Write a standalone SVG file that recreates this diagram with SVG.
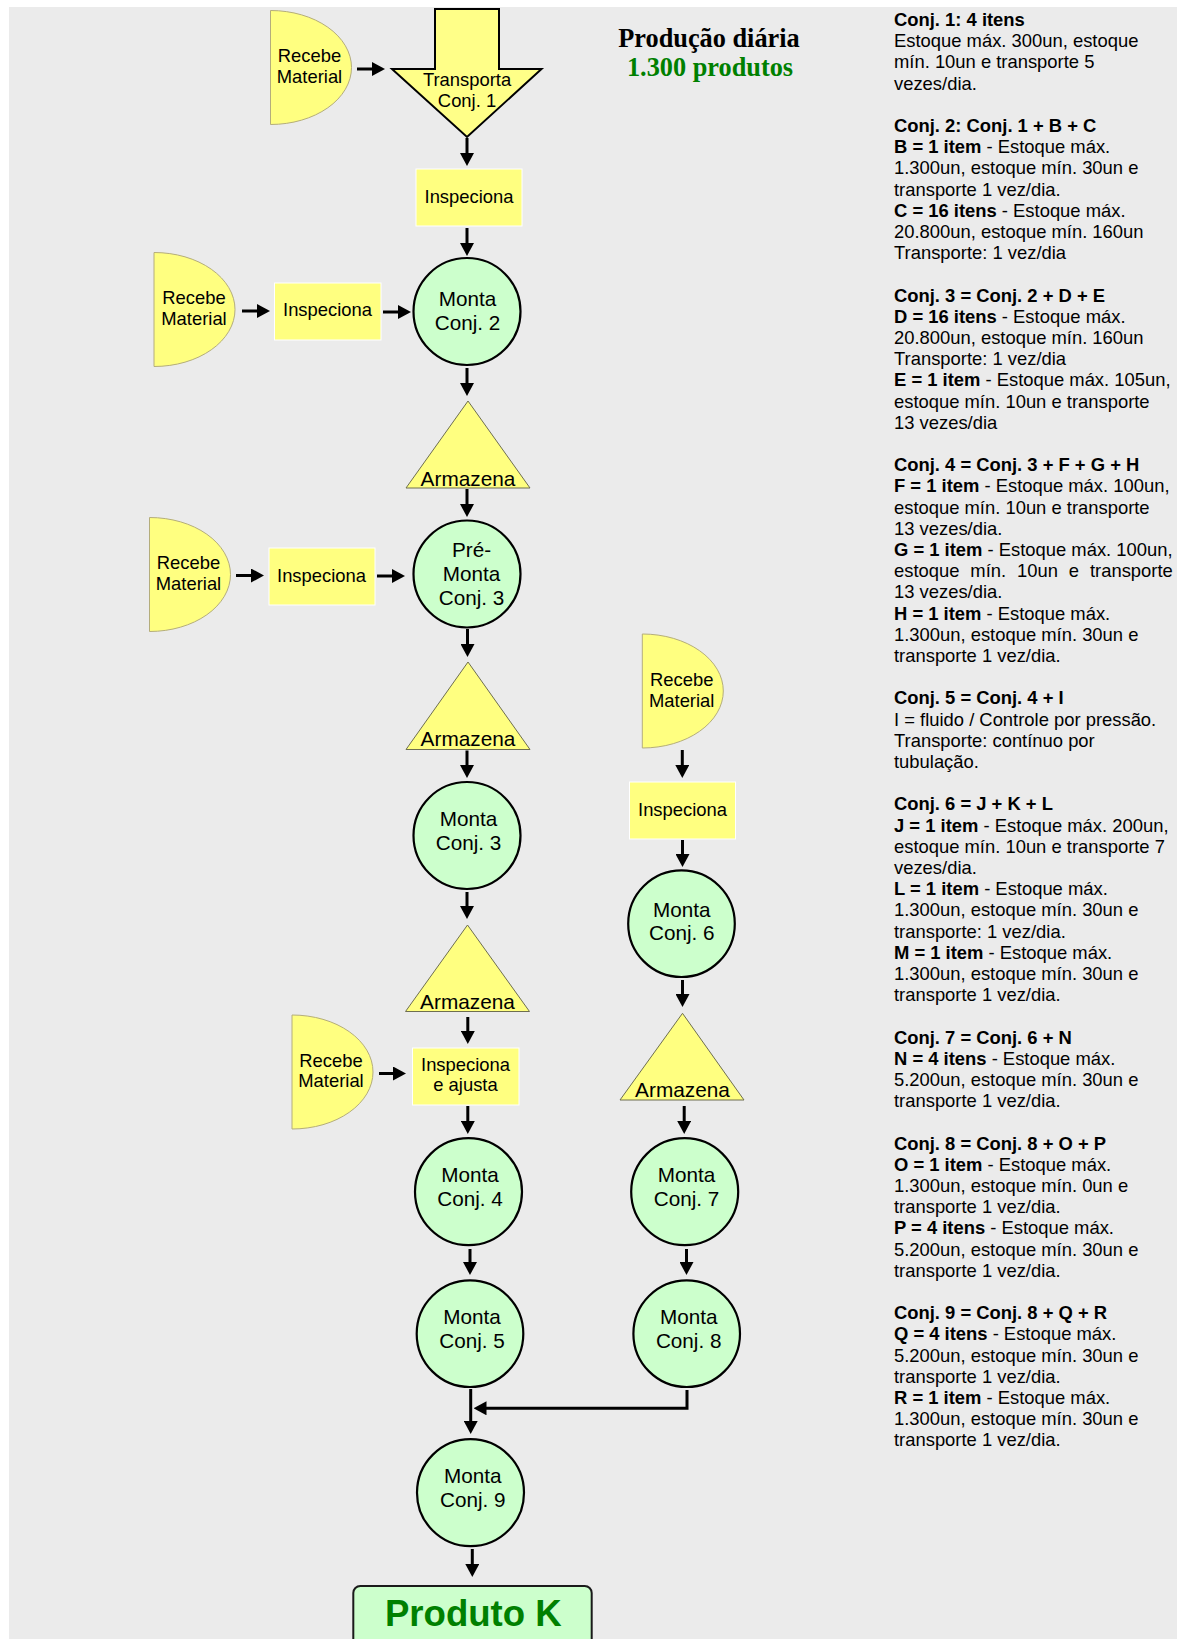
<svg xmlns="http://www.w3.org/2000/svg" width="1177" height="1639" viewBox="0 0 1177 1639">
  <style>
    .bg { fill: #ebebeb; }
    .recv { fill: #ffff80; stroke: #b4ad7c; stroke-width: 1; }
    .insp { fill: #ffff80; stroke: #ffffff; stroke-width: 1; }
    .store { fill: #ffff80; stroke: #6e6e50; stroke-width: 1; }
    .move { fill: #ffff88; stroke: #000000; stroke-width: 2; stroke-linejoin: miter; }
    .op { fill: #ccffcc; stroke: #000000; stroke-width: 2.2; }
    .prod { fill: #ccffcc; stroke: #1a1a1a; stroke-width: 2; }
    .t { font-family: "Liberation Sans", Arial, sans-serif; font-size: 18.4px; fill: #000; text-anchor: middle; }
    .tc { font-family: "Liberation Sans", Arial, sans-serif; font-size: 20.7px; fill: #000; text-anchor: middle; }
    .ta { font-family: "Liberation Sans", Arial, sans-serif; font-size: 20.8px; fill: #000; text-anchor: middle; }
    .tk { font-family: "Liberation Sans", Arial, sans-serif; font-size: 36.6px; font-weight: bold; fill: #008000; text-anchor: middle; }
    .title { font-family: "Liberation Serif", "Times New Roman", serif; font-size: 26.3px; font-weight: bold; text-anchor: middle; }
    .note { font-family: "Liberation Sans", Arial, sans-serif; font-size: 18.4px; fill: #000; }
    .b { font-weight: bold; }
    .flow { fill: none; stroke: #000; stroke-width: 3; marker-end: url(#ah); }
  </style>
  <defs>
    <marker id="ah" markerUnits="userSpaceOnUse" viewBox="0 0 13 14" markerWidth="13" markerHeight="14" refX="5" refY="7" orient="auto">
      <path d="M0,0 L13,7 L0,14 Z" fill="#000"/>
    </marker>
  </defs>

  <rect class="bg" x="9" y="7" width="1168" height="1632"/>

  <!-- heading -->
  <g id="heading">
    <text class="title" x="709" y="47" fill="#000">Produção diária</text>
    <text class="title" x="710" y="76" fill="#008000">1.300 produtos</text>
  </g>

  <!-- main line -->
  <g id="recebe1">
    <path class="recv" d="M270.5,10.5 A81,57 0 0 1 270.5,124.5 Z"/>
    <text class="t" x="309.5" y="61.5">Recebe</text>
    <text class="t" x="309.5" y="82.5">Material</text>
  </g>
  <g id="transporta1">
    <polygon class="move" points="435,9 499,9 499,69 541.5,69 467,137 392,69 435,69"/>
    <text class="t" x="467" y="86">Transporta</text>
    <text class="t" x="467" y="107">Conj. 1</text>
  </g>
  <g id="inspeciona1">
    <rect class="insp" x="416" y="169" width="106" height="57"/>
    <text class="t" x="469" y="203">Inspeciona</text>
  </g>
  <g id="monta2">
    <circle class="op" cx="467" cy="311.5" r="53.5"/>
    <text class="tc" x="467.5" y="305.5">Monta</text>
    <text class="tc" x="467.5" y="329.5">Conj. 2</text>
  </g>
  <g id="recebe2">
    <path class="recv" d="M154,252.5 A81,57 0 0 1 154,366.5 Z"/>
    <text class="t" x="194" y="303.5">Recebe</text>
    <text class="t" x="194" y="324.5">Material</text>
  </g>
  <g id="inspeciona2">
    <rect class="insp" x="274.5" y="283" width="106.5" height="57"/>
    <text class="t" x="327.5" y="316">Inspeciona</text>
  </g>
  <g id="armazena1">
    <polygon class="store" points="468,401 406,488 530,488"/>
    <text class="ta" x="468" y="485.5">Armazena</text>
  </g>
  <g id="premonta3">
    <circle class="op" cx="467" cy="574" r="53.5"/>
    <text class="tc" x="471.5" y="557">Pré-</text>
    <text class="tc" x="471.5" y="581">Monta</text>
    <text class="tc" x="471.5" y="604.5">Conj. 3</text>
  </g>
  <g id="recebe3">
    <path class="recv" d="M149.5,517.5 A81,57 0 0 1 149.5,631.5 Z"/>
    <text class="t" x="188.5" y="569">Recebe</text>
    <text class="t" x="188.5" y="590">Material</text>
  </g>
  <g id="inspeciona3">
    <rect class="insp" x="269" y="548" width="106" height="57"/>
    <text class="t" x="321.5" y="581.5">Inspeciona</text>
  </g>
  <g id="armazena2">
    <polygon class="store" points="468,662 406,749.5 530,749.5"/>
    <text class="ta" x="468" y="746">Armazena</text>
  </g>
  <g id="monta3">
    <circle class="op" cx="467" cy="835.5" r="53.5"/>
    <text class="tc" x="468.5" y="825.5">Monta</text>
    <text class="tc" x="468.5" y="849.5">Conj. 3</text>
  </g>
  <g id="armazena3">
    <polygon class="store" points="467.5,925 405.5,1011.5 529.5,1011.5"/>
    <text class="ta" x="467.5" y="1009">Armazena</text>
  </g>
  <g id="inspeciona-ajusta">
    <rect class="insp" x="412.5" y="1048" width="106.5" height="57"/>
    <text class="t" x="465.5" y="1070.5">Inspeciona</text>
    <text class="t" x="465.5" y="1091">e ajusta</text>
  </g>
  <g id="recebe4">
    <path class="recv" d="M292,1015 A81,57 0 0 1 292,1129 Z"/>
    <text class="t" x="331" y="1066.5">Recebe</text>
    <text class="t" x="331" y="1087">Material</text>
  </g>
  <g id="monta4">
    <circle class="op" cx="468.5" cy="1191.7" r="53.5"/>
    <text class="tc" x="470" y="1181.5">Monta</text>
    <text class="tc" x="470" y="1205.5">Conj. 4</text>
  </g>
  <g id="monta5">
    <circle class="op" cx="470" cy="1333.7" r="53.3"/>
    <text class="tc" x="472" y="1323.5">Monta</text>
    <text class="tc" x="472" y="1347.5">Conj. 5</text>
  </g>
  <g id="monta9">
    <circle class="op" cx="470.5" cy="1492.7" r="53.5"/>
    <text class="tc" x="472.8" y="1483">Monta</text>
    <text class="tc" x="472.8" y="1507">Conj. 9</text>
  </g>
  <g id="produto">
    <rect class="prod" x="353.3" y="1586" width="238.4" height="62" rx="7" ry="7"/>
    <text class="tk" x="473.3" y="1625.7">Produto K</text>
  </g>

  <!-- side line -->
  <g id="recebe5">
    <path class="recv" d="M642.3,634 A81,57 0 0 1 642.3,748 Z"/>
    <text class="t" x="681.7" y="686">Recebe</text>
    <text class="t" x="681.7" y="706.5">Material</text>
  </g>
  <g id="inspeciona4">
    <rect class="insp" x="629.5" y="782" width="106" height="57"/>
    <text class="t" x="682.5" y="816">Inspeciona</text>
  </g>
  <g id="monta6">
    <circle class="op" cx="681.5" cy="923.7" r="53.3"/>
    <text class="tc" x="681.8" y="916.5">Monta</text>
    <text class="tc" x="681.8" y="940">Conj. 6</text>
  </g>
  <g id="armazena4">
    <polygon class="store" points="682.5,1013.3 620,1100 744,1100"/>
    <text class="ta" x="682.5" y="1097.3">Armazena</text>
  </g>
  <g id="monta7">
    <circle class="op" cx="684.7" cy="1191.7" r="53.5"/>
    <text class="tc" x="686.5" y="1181.5">Monta</text>
    <text class="tc" x="686.5" y="1205.5">Conj. 7</text>
  </g>
  <g id="monta8">
    <circle class="op" cx="686.7" cy="1333.7" r="53.3"/>
    <text class="tc" x="688.7" y="1323.5">Monta</text>
    <text class="tc" x="688.7" y="1347.5">Conj. 8</text>
  </g>

  <!-- connectors: each path ends 8px short of the arrow tip -->
  <g id="connectors">
    <path class="flow" d="M357,69 H377"/>
    <path class="flow" d="M467,138 V158"/>
    <path class="flow" d="M467,228 V248"/>
    <path class="flow" d="M242,311 H262"/>
    <path class="flow" d="M383,312 H403"/>
    <path class="flow" d="M467,368 V388"/>
    <path class="flow" d="M467,489 V509"/>
    <path class="flow" d="M236,575.5 H256"/>
    <path class="flow" d="M377,576 H397"/>
    <path class="flow" d="M467.5,629 V649"/>
    <path class="flow" d="M467,750.5 V770"/>
    <path class="flow" d="M467,892 V911"/>
    <path class="flow" d="M467.8,1017 V1036"/>
    <path class="flow" d="M379,1073.5 H398"/>
    <path class="flow" d="M467.8,1106 V1126"/>
    <path class="flow" d="M470,1249 V1267"/>
    <path class="flow" d="M470.7,1389 V1426"/>
    <path class="flow" d="M472.3,1549 V1569"/>
    <path class="flow" d="M682.3,750 V770"/>
    <path class="flow" d="M682.5,840 V859"/>
    <path class="flow" d="M682.5,980 V999"/>
    <path class="flow" d="M684.2,1106 V1126"/>
    <path class="flow" d="M686.5,1249 V1267"/>
    <path class="flow" d="M687,1390 V1408.3 H481.5"/>
  </g>

  <!-- notes on each assembly -->
  <g id="notas">
    <text class="note" x="894" y="26"><tspan class="b">Conj. 1: 4 itens</tspan></text>
    <text class="note" x="894" y="47.2">Estoque máx. 300un, estoque</text>
    <text class="note" x="894" y="68.4">mín. 10un e transporte 5</text>
    <text class="note" x="894" y="89.6">vezes/dia.</text>

    <text class="note" x="894" y="132"><tspan class="b">Conj. 2: Conj. 1 + B + C</tspan></text>
    <text class="note" x="894" y="153.2"><tspan class="b">B = 1 item</tspan> - Estoque máx.</text>
    <text class="note" x="894" y="174.4">1.300un, estoque mín. 30un e</text>
    <text class="note" x="894" y="195.6">transporte 1 vez/dia.</text>
    <text class="note" x="894" y="216.8"><tspan class="b">C = 16 itens</tspan> - Estoque máx.</text>
    <text class="note" x="894" y="238">20.800un, estoque mín. 160un</text>
    <text class="note" x="894" y="259.2">Transporte: 1 vez/dia</text>

    <text class="note" x="894" y="301.6"><tspan class="b">Conj. 3 = Conj. 2 + D + E</tspan></text>
    <text class="note" x="894" y="322.8"><tspan class="b">D = 16 itens</tspan> - Estoque máx.</text>
    <text class="note" x="894" y="344">20.800un, estoque mín. 160un</text>
    <text class="note" x="894" y="365.2">Transporte: 1 vez/dia</text>
    <text class="note" x="894" y="386.4"><tspan class="b">E = 1 item</tspan> - Estoque máx. 105un,</text>
    <text class="note" x="894" y="407.6">estoque mín. 10un e transporte</text>
    <text class="note" x="894" y="428.8">13 vezes/dia</text>

    <text class="note" x="894" y="471.2"><tspan class="b">Conj. 4 = Conj. 3 + F + G + H</tspan></text>
    <text class="note" x="894" y="492.4"><tspan class="b">F = 1 item</tspan> - Estoque máx. 100un,</text>
    <text class="note" x="894" y="513.6">estoque mín. 10un e transporte</text>
    <text class="note" x="894" y="534.8">13 vezes/dia.</text>
    <text class="note" x="894" y="556"><tspan class="b">G = 1 item</tspan> - Estoque máx. 100un,</text>
    <text class="note" x="894" y="577.2" word-spacing="5.8">estoque mín. 10un e transporte</text>
    <text class="note" x="894" y="598.4">13 vezes/dia.</text>
    <text class="note" x="894" y="619.6"><tspan class="b">H = 1 item</tspan> - Estoque máx.</text>
    <text class="note" x="894" y="640.8">1.300un, estoque mín. 30un e</text>
    <text class="note" x="894" y="662">transporte 1 vez/dia.</text>

    <text class="note" x="894" y="704.4"><tspan class="b">Conj. 5 = Conj. 4 + I</tspan></text>
    <text class="note" x="894" y="725.6">I = fluido / Controle por pressão.</text>
    <text class="note" x="894" y="746.8">Transporte: contínuo por</text>
    <text class="note" x="894" y="768">tubulação.</text>

    <text class="note" x="894" y="810.4"><tspan class="b">Conj. 6 = J + K + L</tspan></text>
    <text class="note" x="894" y="831.6"><tspan class="b">J = 1 item</tspan> - Estoque máx. 200un,</text>
    <text class="note" x="894" y="852.8">estoque mín. 10un e transporte 7</text>
    <text class="note" x="894" y="874">vezes/dia.</text>
    <text class="note" x="894" y="895.2"><tspan class="b">L = 1 item</tspan> - Estoque máx.</text>
    <text class="note" x="894" y="916.4">1.300un, estoque mín. 30un e</text>
    <text class="note" x="894" y="937.6">transporte: 1 vez/dia.</text>
    <text class="note" x="894" y="958.8"><tspan class="b">M = 1 item</tspan> - Estoque máx.</text>
    <text class="note" x="894" y="980">1.300un, estoque mín. 30un e</text>
    <text class="note" x="894" y="1001.2">transporte 1 vez/dia.</text>

    <text class="note" x="894" y="1043.6"><tspan class="b">Conj. 7 = Conj. 6 + N</tspan></text>
    <text class="note" x="894" y="1064.8"><tspan class="b">N = 4 itens</tspan> - Estoque máx.</text>
    <text class="note" x="894" y="1086">5.200un, estoque mín. 30un e</text>
    <text class="note" x="894" y="1107.2">transporte 1 vez/dia.</text>

    <text class="note" x="894" y="1149.6"><tspan class="b">Conj. 8 = Conj. 8 + O + P</tspan></text>
    <text class="note" x="894" y="1170.8"><tspan class="b">O = 1 item</tspan> - Estoque máx.</text>
    <text class="note" x="894" y="1192">1.300un, estoque mín. 0un e</text>
    <text class="note" x="894" y="1213.2">transporte 1 vez/dia.</text>
    <text class="note" x="894" y="1234.4"><tspan class="b">P = 4 itens</tspan> - Estoque máx.</text>
    <text class="note" x="894" y="1255.6">5.200un, estoque mín. 30un e</text>
    <text class="note" x="894" y="1276.8">transporte 1 vez/dia.</text>

    <text class="note" x="894" y="1319.2"><tspan class="b">Conj. 9 = Conj. 8 + Q + R</tspan></text>
    <text class="note" x="894" y="1340.4"><tspan class="b">Q = 4 itens</tspan> - Estoque máx.</text>
    <text class="note" x="894" y="1361.6">5.200un, estoque mín. 30un e</text>
    <text class="note" x="894" y="1382.8">transporte 1 vez/dia.</text>
    <text class="note" x="894" y="1404"><tspan class="b">R = 1 item</tspan> - Estoque máx.</text>
    <text class="note" x="894" y="1425.2">1.300un, estoque mín. 30un e</text>
    <text class="note" x="894" y="1446.4">transporte 1 vez/dia.</text>
  </g>
</svg>
